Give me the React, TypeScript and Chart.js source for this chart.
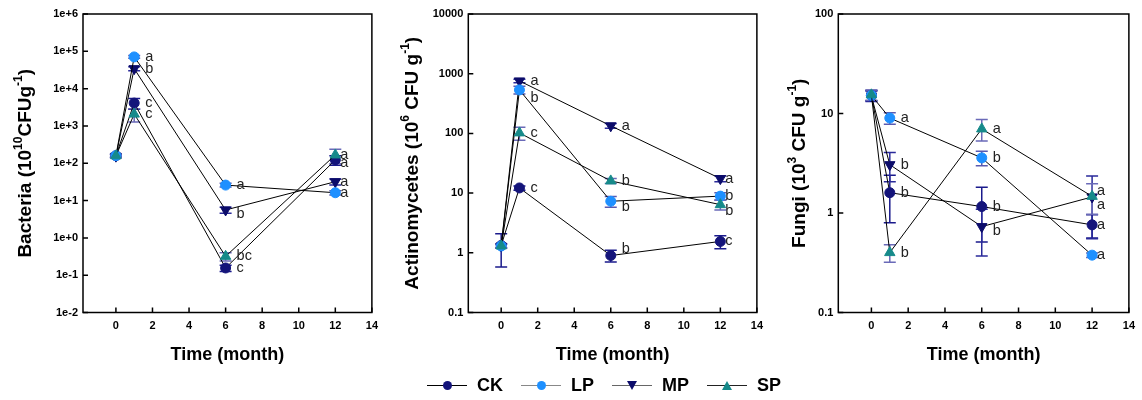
import React, { useEffect, useRef } from "react";
import { Chart, registerables } from "chart.js";

Chart.register(...registerables);

// ---------- data ----------
const months = [0, 1, 6, 12];
const seriesNames = ["CK", "LP", "MP", "SP"];
const xTickValues = [0, 2, 4, 6, 8, 10, 12, 14];

// Bacteria (10^10 CFU g^-1)
const bacCK = [160, 4100, 0.156, 123];
const bacLP = [160, 70800, 26, 16.2];
const bacMP = [155, 34300, 5.6, 32];
const bacSP = [158, 2075, 0.32, 167];
const bacCKsd = [15, 1300, 0.03, 35];
const bacLPsd = [15, 6000, 3, 2];
const bacMPsd = [15, 4000, 1, 6];
const bacSPsd = [15, 800, 0.08, 70];
const bacCKlet = ["", "c", "c", "a"];
const bacLPlet = ["", "a", "a", "a"];
const bacMPlet = ["", "b", "b", "a"];
const bacSPlet = ["", "c", "bc", "a"];
const bacYTicks = [1e-2, 1e-1, 1, 1e1, 1e2, 1e3, 1e4, 1e5, 1e6];
const bacYLabels = ["1e-2", "1e-1", "1e+0", "1e+1", "1e+2", "1e+3", "1e+4", "1e+5", "1e+6"];

// Actinomycetes (10^6 CFU g^-1)
const actCK = [1.33, 12.2, 0.9, 1.55];
const actLP = [1.3, 535, 7.3, 8.9];
const actMP = [1.3, 757, 134, 17.5];
const actSP = [1.3, 102, 16, 6.4];
const actCKsd = [0.75, 1, 0.2, 0.38];
const actLPsd = [0.1, 80, 1.5, 1.2];
const actMPsd = [0.1, 50, 12, 2];
const actSPsd = [0.1, 25, 1.5, 1.2];
const actCKlet = ["", "c", "b", "c"];
const actLPlet = ["", "b", "b", "b"];
const actMPlet = ["", "a", "a", "a"];
const actSPlet = ["", "c", "b", "b"];
const actYTicks = [0.1, 1, 10, 100, 1000, 10000];
const actYLabels = ["0.1", "1", "10", "100", "1000", "10000"];

// Fungi (10^3 CFU g^-1)
const funCK = [15.2, 1.6, 1.16, 0.76];
const funLP = [15.2, 9.0, 3.58, 0.377];
const funMP = [15.0, 3.06, 0.73, 1.45];
const funSP = [15.4, 0.4, 7.0, 1.47];
const funCKsd = [1.8, 0.8, 0.65, 0.2];
const funLPsd = [1.8, 1.2, 0.6, 0.02];
const funMPsd = [1.8, 1.0, 0.36, 0.9];
const funSPsd = [1.8, 0.08, 1.7, 0.5];
const funCKlet = ["", "b", "b", "a"];
const funLPlet = ["", "a", "b", "a"];
const funMPlet = ["", "b", "b", "a"];
const funSPlet = ["", "b", "a", "a"];
const funYTicks = [0.1, 1, 10, 100];
const funYLabels = ["0.1", "1", "10", "100"];

// ---------- styles ----------
const FONT = "'Liberation Sans', Arial, Helvetica, sans-serif";
const seriesStyle = [
  { color: "#14147a", style: "circle", rot: 0, radius: 5, err: "#1a1a8c", order: 4, legendLine: "#000" },
  { color: "#1e90ff", style: "circle", rot: 0, radius: 5, err: "#5a5ab0", order: 2, legendLine: "#888" },
  { color: "#0c0c6a", style: "triangle", rot: 180, radius: 6, err: "#2a2a9a", order: 3, legendLine: "#666" },
  { color: "#168a8a", style: "triangle", rot: 0, radius: 6, err: "#6a6ab8", order: 1, legendLine: "#222" },
];

type Seg = { t: string; sup?: boolean };

const panels = [
  {
    values: [bacCK, bacLP, bacMP, bacSP],
    sds: [bacCKsd, bacLPsd, bacMPsd, bacSPsd],
    letters: [bacCKlet, bacLPlet, bacMPlet, bacSPlet],
    nudge: [[0, 0, 0, 3], [0, 0, 0, 0], [0, 0, 4, 0], [0, 0, 0, 0]],
    yTicks: bacYTicks,
    yLabels: bacYLabels,
    title: [{ t: "Bacteria (10" }, { t: "10", sup: true }, { t: "CFUg" }, { t: "-1", sup: true }, { t: ")" }] as Seg[],
    left: 0, width: 385, yWidth: 83, padRight: 5, titleX: 26,
  },
  {
    values: [actCK, actLP, actMP, actSP],
    sds: [actCKsd, actLPsd, actMPsd, actSPsd],
    letters: [actCKlet, actLPlet, actMPlet, actSPlet],
    nudge: [[0, 0, -7, 0], [0, 8, 6, 0], [0, 0, 0, 0], [0, 0, 0, 6]],
    yTicks: actYTicks,
    yLabels: actYLabels,
    title: [{ t: "Actinomycetes (10" }, { t: "6", sup: true }, { t: " CFU g" }, { t: "-1", sup: true }, { t: ")" }] as Seg[],
    left: 385, width: 385, yWidth: 83.3, padRight: 3.3, titleX: 28,
  },
  {
    values: [funCK, funLP, funMP, funSP],
    sds: [funCKsd, funLPsd, funMPsd, funSPsd],
    letters: [funCKlet, funLPlet, funMPlet, funSPlet],
    nudge: [[0, 0, 0, 0], [0, 0, 0, 0], [0, 0, 4, 8], [0, 0, 0, -5]],
    yTicks: funYTicks,
    yLabels: funYLabels,
    title: [{ t: "Fungi (10" }, { t: "3", sup: true }, { t: " CFU g" }, { t: "-1", sup: true }, { t: ")" }] as Seg[],
    left: 770, width: 372, yWidth: 68.3, padRight: 6.3, titleX: 30,
  },
];

const decorPlugin = {
  id: "decor",
  beforeDatasetsDraw(chart: any, _a: any, opts: any) {
    const p = opts.panel;
    const ctx = chart.ctx;
    const xs = chart.scales.x;
    const ys = chart.scales.y;
    ctx.save();
    ctx.lineWidth = 1.5;
    p.values.forEach((vals: number[], i: number) => {
      ctx.strokeStyle = seriesStyle[i].err;
      vals.forEach((v, j) => {
        const sd = p.sds[i][j];
        const x = xs.getPixelForValue(months[j]);
        const yHi = ys.getPixelForValue(v + sd);
        const yLo = ys.getPixelForValue(Math.max(v - sd, v * 0.05));
        ctx.beginPath();
        ctx.moveTo(x, yHi);
        ctx.lineTo(x, yLo);
        ctx.moveTo(x - 6, yHi);
        ctx.lineTo(x + 6, yHi);
        ctx.moveTo(x - 6, yLo);
        ctx.lineTo(x + 6, yLo);
        ctx.stroke();
      });
    });
    ctx.restore();
  },
  afterDatasetsDraw(chart: any, _a: any, opts: any) {
    const p = opts.panel;
    const ctx = chart.ctx;
    const xs = chart.scales.x;
    const ys = chart.scales.y;
    ctx.save();
    ctx.font = `14.5px ${FONT}`;
    ctx.fillStyle = "#222";
    ctx.textAlign = "left";
    ctx.textBaseline = "middle";
    p.letters.forEach((lets: string[], i: number) => {
      lets.forEach((l, j) => {
        if (!l) return;
        const x = xs.getPixelForValue(months[j]) + (j === months.length - 1 ? 5 : 11);
        const y = ys.getPixelForValue(p.values[i][j]) + p.nudge[i][j];
        ctx.fillText(l, x, y);
      });
    });
    ctx.restore();
  },
  afterDraw(chart: any, _a: any, opts: any) {
    const p = opts.panel;
    const ctx = chart.ctx;
    const a = chart.chartArea;
    const xs = chart.scales.x;
    const ys = chart.scales.y;
    ctx.save();
    ctx.strokeStyle = "#000";
    ctx.lineWidth = 1.5;
    ctx.strokeRect(a.left, a.top, a.right - a.left, a.bottom - a.top);
    ctx.beginPath();
    xTickValues.forEach((v) => {
      const x = xs.getPixelForValue(v);
      ctx.moveTo(x, a.bottom);
      ctx.lineTo(x, a.bottom - 5);
    });
    p.yTicks.forEach((v: number) => {
      const y = ys.getPixelForValue(v);
      ctx.moveTo(a.left, y);
      ctx.lineTo(a.left + 5, y);
    });
    ctx.stroke();

    // x title
    ctx.fillStyle = "#000";
    ctx.font = `bold 18px ${FONT}`;
    ctx.textAlign = "center";
    ctx.textBaseline = "middle";
    ctx.fillText("Time (month)", (a.left + a.right) / 2, 355);

    // y title with superscripts
    const big = `bold 19px ${FONT}`;
    const small = `bold 12px ${FONT}`;
    let total = 0;
    const widths = p.title.map((s: Seg) => {
      ctx.font = s.sup ? small : big;
      const w = ctx.measureText(s.t).width;
      total += w;
      return w;
    });
    ctx.translate(p.titleX, (a.top + a.bottom) / 2);
    ctx.rotate(-Math.PI / 2);
    ctx.textAlign = "left";
    ctx.textBaseline = "middle";
    let cx = -total / 2;
    p.title.forEach((s: Seg, k: number) => {
      ctx.font = s.sup ? small : big;
      ctx.fillText(s.t, cx, s.sup ? -7 : 0);
      cx += widths[k];
    });
    ctx.restore();
  },
};

function Panel({ panel }: { panel: any }) {
  const ref = useRef<HTMLCanvasElement>(null);
  useEffect(() => {
    if (!ref.current) return;
    const chart = new Chart(ref.current, {
      type: "line",
      data: {
        datasets: seriesNames.map((name, i) => ({
          label: name,
          data: months.map((m, j) => ({ x: m, y: panel.values[i][j] })),
          borderColor: "#000",
          borderWidth: 1,
          pointStyle: seriesStyle[i].style as any,
          rotation: seriesStyle[i].rot,
          pointRadius: seriesStyle[i].radius,
          pointBackgroundColor: seriesStyle[i].color,
          pointBorderColor: seriesStyle[i].color,
          pointBorderWidth: 1,
          order: seriesStyle[i].order,
          fill: false,
          tension: 0,
        })),
      },
      options: {
        animation: false,
        responsive: false,
        maintainAspectRatio: false,
        layout: { padding: { left: 0, top: 14, right: panel.padRight, bottom: 0 } },
        plugins: {
          legend: { display: false },
          tooltip: { enabled: false },
          decor: { panel },
        } as any,
        scales: {
          x: {
            type: "linear",
            min: -1.8,
            max: 14,
            afterBuildTicks: (s: any) => {
              s.ticks = xTickValues.map((v) => ({ value: v }));
            },
            afterFit: (s: any) => {
              s.height = 87.5;
            },
            ticks: {
              autoSkip: false,
              maxRotation: 0,
              padding: 7,
              color: "#000",
              font: { family: FONT, size: 11, weight: "bold" },
              callback: (v: any) => String(v),
            },
            grid: { display: false, drawTicks: false },
            border: { display: false },
          },
          y: {
            type: "logarithmic",
            min: panel.yTicks[0],
            max: panel.yTicks[panel.yTicks.length - 1],
            afterBuildTicks: (s: any) => {
              s.ticks = panel.yTicks.map((v: number) => ({ value: v }));
            },
            afterFit: (s: any) => {
              s.width = panel.yWidth;
            },
            ticks: {
              autoSkip: false,
              padding: 5,
              color: "#000",
              font: { family: FONT, size: 11, weight: "bold" },
              callback: (_v: any, idx: number) => panel.yLabels[idx],
            },
            grid: { display: false, drawTicks: false },
            border: { display: false },
          },
        },
      },
      plugins: [decorPlugin],
    } as any);
    return () => chart.destroy();
  }, [panel]);
  return (
    <canvas
      ref={ref}
      width={panel.width}
      height={400}
      style={{ position: "absolute", left: panel.left, top: 0, width: panel.width, height: 400, display: "block" }}
    />
  );
}

function LegendMarker({ i }: { i: number }) {
  const s = seriesStyle[i];
  let marker: React.ReactNode;
  if (s.style === "circle") {
    marker = <div style={{ width: 9, height: 9, borderRadius: "50%", background: s.color }} />;
  } else if (s.rot === 180) {
    marker = (
      <div style={{ width: 0, height: 0, borderLeft: "5px solid transparent", borderRight: "5px solid transparent", borderTop: `9px solid ${s.color}` }} />
    );
  } else {
    marker = (
      <div style={{ width: 0, height: 0, borderLeft: "5px solid transparent", borderRight: "5px solid transparent", borderBottom: `9px solid ${s.color}` }} />
    );
  }
  return (
    <div style={{ position: "relative", width: 40, height: 12, display: "flex", alignItems: "center", justifyContent: "center" }}>
      <div style={{ position: "absolute", left: 0, right: 0, top: 6, height: 1, background: s.legendLine }} />
      <div style={{ position: "relative" }}>{marker}</div>
    </div>
  );
}

export default function App() {
  return (
    <div style={{ position: "absolute", left: 0, top: 0, width: 1142, height: 400, background: "#fff", overflow: "hidden" }}>
      {panels.map((p, k) => (
        <Panel key={k} panel={p} />
      ))}
      <div
        style={{
          position: "absolute",
          left: 427,
          top: 374,
          height: 22,
          display: "flex",
          alignItems: "center",
          fontFamily: FONT,
          fontWeight: "bold",
          fontSize: 18,
          color: "#000",
        }}
      >
        {seriesNames.map((n, i) => (
          <div key={n} style={{ display: "flex", alignItems: "center", marginRight: i < 3 ? 18 : 0 }}>
            <LegendMarker i={i} />
            <span style={{ marginLeft: 10 }}>{n}</span>
          </div>
        ))}
      </div>
    </div>
  );
}
